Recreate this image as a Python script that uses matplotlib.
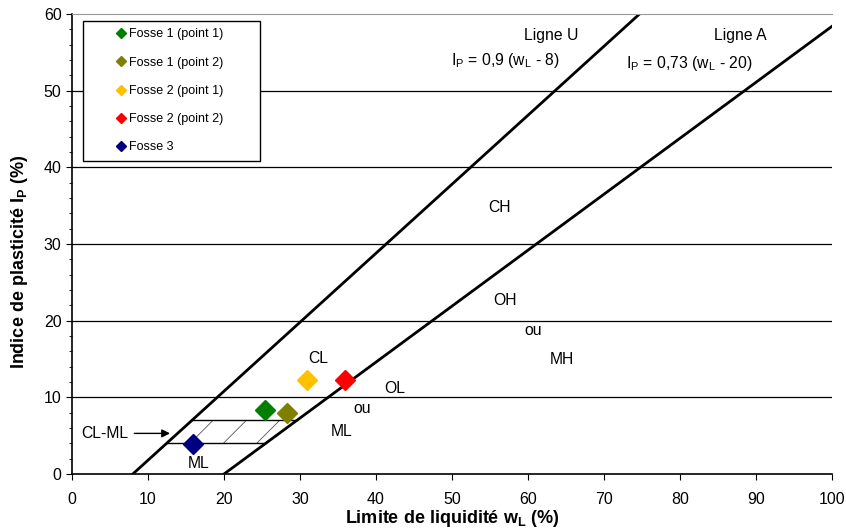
import numpy as np
import matplotlib.pyplot as plt
from matplotlib.ticker import MultipleLocator

plt.rcParams['font.family'] = ['Liberation Sans', 'DejaVu Sans']
plt.rcParams['hatch.linewidth'] = 0.6

# Data points (wL, Ip)
labels = ['Fosse 1 (point 1)', 'Fosse 1 (point 2)', 'Fosse 2 (point 1)',
          'Fosse 2 (point 2)', 'Fosse 3']
wl = [25.4, 28.3, 30.9, 35.9, 15.9]
ip = [8.4, 8.0, 12.3, 12.3, 3.9]
colors = ['#008000', '#808000', '#FFC000', '#FF0000', '#000080']

# Casagrande lines
u_slope, u_off = 0.9, 8
a_slope, a_off = 0.73, 20

fig = plt.figure(figsize=(8.46, 5.31), dpi=100)
ax = fig.add_axes([0.0851, 0.1073, 0.8984, 0.8663])

ax.set_xlim(0, 100)
ax.set_ylim(0, 60)

# horizontal grid lines
for g in range(10, 60, 10):
    ax.axhline(g, color='black', lw=0.9, zorder=1)

# U and A lines
wu = np.linspace(u_off, 100, 200)
ax.plot(wu, u_slope * (wu - u_off), color='black', lw=2, zorder=2)
wa = np.linspace(a_off, 100, 200)
ax.plot(wa, a_slope * (wa - a_off), color='black', lw=2, zorder=2)

# CL-ML hatched zone between Ip = 4 and 7
ip_lo, ip_hi = 4, 7
for lvl in (ip_lo, ip_hi):
    ax.plot([lvl / u_slope + u_off, lvl / a_slope + a_off], [lvl, lvl],
            color='black', lw=1, zorder=2)
yy = np.array([ip_lo, ip_hi])
ax.fill_betweenx(yy, yy / u_slope + u_off, yy / a_slope + a_off,
                 facecolor='none', edgecolor='#555555', hatch='/', lw=0, zorder=1)

# data points
for lab, x, y, c in zip(labels, wl, ip, colors):
    ax.plot(x, y, marker='D', ms=10, color=c, ls='none', label=lab, zorder=4)

# region labels
fs = 11.3
txt = [(56.3, 34.8, 'CH'), (57.0, 22.6, 'OH'), (60.7, 18.7, 'ou'), (64.5, 14.9, 'MH'),
       (32.4, 15.1, 'CL'), (42.5, 11.2, 'OL'), (38.2, 8.5, 'ou'), (35.5, 5.6, 'ML'),
       (16.7, 1.4, 'ML')]
for x, y, s in txt:
    ax.text(x, y, s, fontsize=fs, ha='center', va='center', zorder=5)

ax.text(4.3, 5.3, 'CL-ML', fontsize=fs, ha='center', va='center')
ax.annotate('', xy=(12.9, 5.3), xytext=(8.2, 5.3),
            arrowprops=dict(arrowstyle='-|>', color='black', lw=1, shrinkA=0, shrinkB=0,
                            mutation_scale=12))

ax.text(63.0, 57.2, 'Ligne U', fontsize=fs, ha='center', va='center')
ax.text(57.0, 53.9, r'I$_\mathregular{P}$ = 0,9 (w$_\mathregular{L}$ - 8)', fontsize=fs,
        ha='center', va='center')
ax.text(87.9, 57.2, 'Ligne A', fontsize=fs, ha='center', va='center')
ax.text(81.2, 53.6, r'I$_\mathregular{P}$ = 0,73 (w$_\mathregular{L}$ - 20)', fontsize=fs,
        ha='center', va='center')

# legend
leg = ax.legend(loc='upper left', bbox_to_anchor=(0.0149, 0.687, 0.232, 0.2984),
                mode='expand', fontsize=9, frameon=True, fancybox=False,
                edgecolor='black', markerscale=0.5, handlelength=4.75,
                handletextpad=-1.7, labelspacing=1.3, borderpad=0.62,
                borderaxespad=0, framealpha=1)
leg.get_frame().set_linewidth(1)

# axes styling
ax.xaxis.set_major_locator(MultipleLocator(10))
ax.yaxis.set_major_locator(MultipleLocator(10))
ax.yaxis.set_minor_locator(MultipleLocator(2))
ax.tick_params(axis='both', which='major', direction='out', length=4, labelsize=11.5)
ax.tick_params(axis='x', which='major', pad=9)
ax.tick_params(axis='y', which='minor', direction='out', length=2)
ax.spines['right'].set_visible(False)
ax.spines['top'].set_color('#999999')
ax.spines['left'].set_linewidth(1.2)
ax.spines['bottom'].set_linewidth(1.2)

ax.set_xlabel(r'Limite de liquidité w$_\mathregular{L}$ (%)', fontsize=13, fontweight='bold')
ax.set_ylabel(r'Indice de plasticité I$_\mathregular{P}$ (%)', fontsize=13, fontweight='bold')
ax.xaxis.set_label_coords(0.5, -0.073)
ax.yaxis.set_label_coords(-0.055, 0.46)

fig.savefig('out.png', dpi=100)
